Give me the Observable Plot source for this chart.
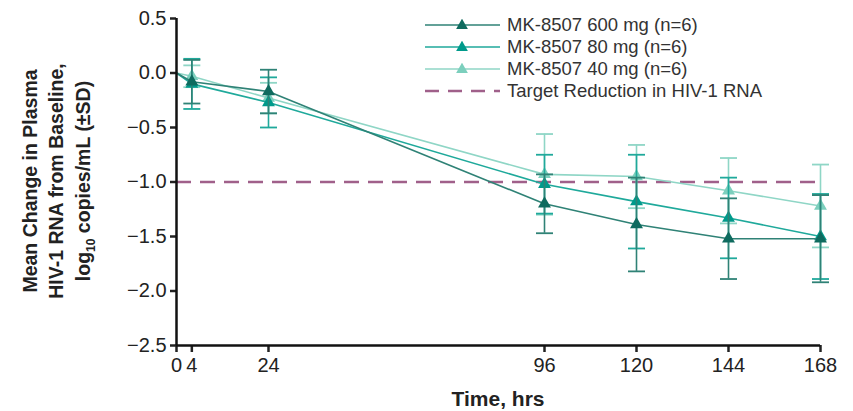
<!DOCTYPE html>
<html>
<head>
<meta charset="utf-8">
<script src="https://cdn.jsdelivr.net/npm/d3@7"></script>
<script src="https://cdn.jsdelivr.net/npm/@observablehq/plot@0.6"></script>
<style>
  body { margin: 0; background: #fff; font-family: "Liberation Sans", Arial, sans-serif; }
  #wrap { position: relative; width: 853px; height: 411px; }
  #legend { position: absolute; left: 425px; top: 14px; font-size: 18.5px; color: #333; }
  #legend .row { display: flex; align-items: center; height: 22px; }
  #legend svg { margin-right: 7px; }
</style>
</head>
<body>
<div id="wrap"><div id="legend"></div></div>
<script>
const times = [4, 24, 96, 120, 144, 168];
const series = ["MK-8507 600 mg (n=6)", "MK-8507 80 mg (n=6)", "MK-8507 40 mg (n=6)"];
const mean600 = [-0.08, -0.17, -1.20, -1.39, -1.52, -1.52];
const sd600   = [0.20, 0.20, 0.27, 0.43, 0.37, 0.40];
const mean80  = [-0.10, -0.27, -1.02, -1.18, -1.33, -1.50];
const sd80    = [0.23, 0.23, 0.27, 0.43, 0.37, 0.39];
const mean40  = [-0.03, -0.23, -0.93, -0.95, -1.08, -1.22];
const sd40    = [0.10, 0.14, 0.37, 0.29, 0.30, 0.38];
const targetLabel = "Target Reduction in HIV-1 RNA";
const targetValue = -1.0;
const xTicks = [0, 4, 24, 96, 120, 144, 168];
const yTicks = [0.5, 0, -0.5, -1, -1.5, -2, -2.5];

const lineColors = ["#2f8276", "#1fa99b", "#8fd6c6"];
const markColors = ["#0f6b5f", "#009a8b", "#7ccfbd"];
const targetColor = "#a0608a";

const means = [mean600, mean80, mean40];
const sds = [sd600, sd80, sd40];
const pts = [], lines = [];
series.forEach((s, i) => {
  lines.push({s, i, t: 0, v: 0});
  times.forEach((t, j) => {
    const p = {s, i, t, v: means[i][j], lo: means[i][j] - sds[i][j], hi: means[i][j] + sds[i][j]};
    pts.push(p); lines.push(p);
  });
});

const hline = { draw(ctx, size) { const w = Math.sqrt(size / Math.PI); ctx.moveTo(-w, 0); ctx.lineTo(w, 0); } };

const marks = [
  Plot.ruleY([targetValue], {x1: 0, x2: 168, stroke: targetColor, strokeWidth: 2.5, strokeDasharray: "15,9"})
];
[2, 1, 0].forEach(i => {
  const P = pts.filter(d => d.i === i);
  const L = lines.filter(d => d.i === i);
  marks.push(
    Plot.ruleX(P, {x: "t", y1: "lo", y2: "hi", stroke: lineColors[i], strokeWidth: 1.6}),
    Plot.dot(P, {x: "t", y: "hi", symbol: hline, r: 8.5, stroke: lineColors[i], strokeWidth: 1.8}),
    Plot.dot(P, {x: "t", y: "lo", symbol: hline, r: 8.5, stroke: lineColors[i], strokeWidth: 1.8}),
    Plot.line(L, {x: "t", y: "v", stroke: lineColors[i], strokeWidth: 1.6}),
    Plot.dot(P, {x: "t", y: "v", symbol: "triangle", r: 4.8, fill: markColors[i], stroke: "none"})
  );
});
marks.push(
  Plot.axisY({ticks: yTicks, tickFormat: d3.format(".1f"), tickSize: 6, strokeWidth: 2.5, fontSize: 20, tickPadding: 4, label: null, color: "#222"}),
  Plot.axisX({ticks: xTicks, tickFormat: d => String(d), tickSize: 7, strokeWidth: 2.5, fontSize: 20, tickPadding: 5, label: null, color: "#222"}),
  Plot.ruleX([0], {y1: -2.5, y2: 0.5, stroke: "#111", strokeWidth: 2.5}),
  Plot.ruleY([-2.5], {x1: 0, x2: 168, stroke: "#111", strokeWidth: 2.5})
);

const chart = Plot.plot({
  width: 853, height: 411,
  marginLeft: 176, marginRight: 33, marginTop: 18, marginBottom: 66,
  style: {fontFamily: "'Liberation Sans', Arial, sans-serif", background: "#fff"},
  x: {domain: [0, 168]},
  y: {domain: [-2.5, 0.5]},
  marks
});
document.getElementById("wrap").prepend(chart);

// axis titles
const svg = d3.select(chart);
svg.append("text").attr("x", 498).attr("y", 406).attr("text-anchor", "middle")
  .attr("font-size", 21).attr("font-weight", "bold").attr("fill", "#222").text("Time, hrs");
const yt = svg.append("text").attr("transform", "translate(56,181) rotate(-90)")
  .attr("text-anchor", "middle").attr("font-size", 19.5).attr("font-weight", "bold").attr("fill", "#222");
yt.append("tspan").attr("x", 0).attr("dy", "-1.0em").text("Mean Change in Plasma");
yt.append("tspan").attr("x", 0).attr("dy", "1.38em").text("HIV-1 RNA from Baseline,");
const t3 = yt.append("tspan").attr("x", 0).attr("dy", "1.38em");
t3.append("tspan").text("log");
t3.append("tspan").attr("font-size", 12).attr("dy", "0.4em").text("10");
t3.append("tspan").attr("dy", "-0.25em").text(" copies/mL (±SD)");

// legend
const leg = d3.select("#legend");
series.forEach((s, i) => {
  const r = leg.append("div").attr("class", "row");
  const sv = r.append("svg").attr("width", 75).attr("height", 12);
  sv.append("line").attr("x1", 0).attr("x2", 75).attr("y1", 6).attr("y2", 6).attr("stroke", lineColors[i]).attr("stroke-width", 1.6);
  sv.append("path").attr("d", d3.symbol(d3.symbolTriangle, 60)()).attr("transform", "translate(37,6.5)").attr("fill", markColors[i]);
  r.append("span").text(s);
});
const r4 = leg.append("div").attr("class", "row");
const sv4 = r4.append("svg").attr("width", 75).attr("height", 12);
sv4.append("line").attr("x1", 0).attr("x2", 75).attr("y1", 6).attr("y2", 6).attr("stroke", targetColor).attr("stroke-width", 2.5).attr("stroke-dasharray", "14,9");
r4.append("span").text(targetLabel);
</script>
</body>
</html>
